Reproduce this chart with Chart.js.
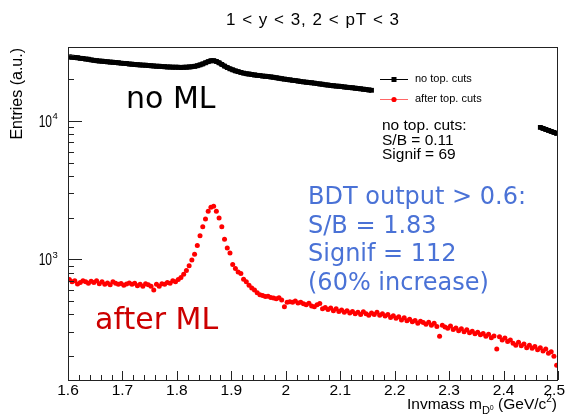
<!DOCTYPE html>
<html>
<head>
<meta charset="utf-8">
<script src="https://cdn.jsdelivr.net/npm/chart.js@4.4.1/dist/chart.umd.min.js"></script>
<style>
html, body { margin: 0; padding: 0; background: #ffffff; }
canvas { display: block; }
</style>
</head>
<body>
<canvas id="c" width="567" height="417"></canvas>
<script>
// D0 invariant-mass bins: 180 bins of 5 MeV between 1.6 and 2.5 GeV/c^2
const massBinCenters = Array.from({ length: 180 }, (_, i) => +(1.6025 + 0.005 * i).toFixed(4));

// Entries without topological cuts (null where the curve is hidden behind the legend)
const noTopCuts = [
  29000, 28850, 28700, 28600, 28350, 28200, 28000, 27900, 27600, 27400,
  27250, 27100, 27000, 26850, 26750, 26600, 26500, 26400, 26300, 26150,
  26050, 25950, 25800, 25700, 25600, 25500, 25400, 25300, 25250, 25150,
  25050, 24950, 24850, 24800, 24700, 24650, 24550, 24500, 24450, 24450,
  24400, 24350, 24400, 24450, 24550, 24650, 24800, 25050, 25400, 25800,
  26300, 26800, 27200, 27250, 26900, 26300, 25600, 24900, 24300, 23800,
  23400, 23000, 22700, 22400, 22150, 21950, 21800, 21650, 21500, 21350,
  21250, 21100, 21000, 20900, 20800, 20650, 20500, 20350, 20200, 20050,
  19900, 19800, 19650, 19550, 19400, 19250, 19150, 19050, 18950, 18850,
  18750, 18600, 18500, 18400, 18250, 18150, 18050, 17950, 17850, 17800,
  17700, 17600, 17500, 17400, 17350, 17250, 17150, 17050, 16950, 16850,
  16750, 16650,
  null, null, null, null, null, null, null, null, null, null,
  null, null, null, null, null, null, null, null, null, null,
  null, null, null, null, null, null, null, null, null, null,
  null, null, null, null, null, null, null, null, null, null,
  null, null, null, null, null, null, null, null, null, null,
  null, null, null, null, null, null, null, null, null, null,
  null,
  8980, 8830, 8680, 8540, 8400, 8260, 8120
];

// Entries after topological cuts (BDT output > 0.6)
const afterTopCuts = [
  715, 690, 700, 665, 680, 700, 690, 672, 695, 680,
  700, 668, 690, 660, 675, 655, 690, 672, 660, 670,
  650, 665, 675, 660, 672, 645, 660, 640, 668, 655,
  640, 600, 660, 640, 668, 660, 680, 672, 700, 690,
  715, 740, 780, 830, 900, 990, 1090, 1260, 1480, 1720,
  1960, 2230, 2380, 2420, 2230, 1990, 1720, 1400, 1210, 1110,
  920, 860, 810, 790, 720, 690, 650, 620, 600, 575,
  555, 548, 540, 542, 530, 526, 520, 528, 508, 455,
  490, 495, 490, 500, 485, 490, 478, 470, 482, 460,
  455, 470, 480, 440, 450, 435, 445, 425, 440, 420,
  430, 415, 425, 410, 420, 405, 415, 400, 418, 405,
  395, 410, 400, 415, 395, 405, 390, 400, 380, 392,
  375, 385, 365, 378, 360, 370, 355, 362, 345, 358,
  350, 340, 352, 335, 345, 328, 278, 335, 325, 318,
  330, 312, 320, 305, 315, 300, 310, 295, 302, 290,
  298, 285, 292, 278, 288, 272, 280, 225, 276, 262,
  270, 255, 262, 248, 240, 252, 238, 245, 230, 240,
  228, 235, 222, 230, 218, 225, 210, 215, 200, 172
];

// Axis ticks
const xMajorTicks = [1.6, 1.7, 1.8, 1.9, 2.0, 2.1, 2.2, 2.3, 2.4, 2.5];
const xTickLabels = ['1.6', '1.7', '1.8', '1.9', '2', '2.1', '2.2', '2.3', '2.4', '2.5'];
const xMinorStep = 0.02;
const yMajorTicks = [1000, 10000];
const yTickExponents = ['3', '4'];
const yMinorTicks = [200, 300, 400, 500, 600, 700, 800, 900,
                     2000, 3000, 4000, 5000, 6000, 7000, 8000, 9000, 20000, 30000];

const seriesNames = ['no top. cuts', 'after top. cuts'];
const statsNoCuts = ['no top. cuts:', 'S/B = 0.11', 'Signif = 69'];
const statsBDT = ['BDT output > 0.6:', 'S/B = 1.83', 'Signif = 112', '(60% increase)'];

const SANS = '"Liberation Sans", Arial, sans-serif';
const VERD = '"DejaVu Sans", Verdana, sans-serif';

const toXY = (vals) => vals.map((v, i) => ({ x: massBinCenters[i], y: v }));

// Frame, inward ticks, labels and annotations in the style of a ROOT canvas
const rootStyle = {
  id: 'rootStyle',
  afterDatasetsDraw(chart) {
    const { ctx, chartArea: a, scales } = chart;
    const xs = scales.x, ys = scales.y;
    ctx.save();

    // frame
    ctx.strokeStyle = '#222';
    ctx.lineWidth = 1;
    ctx.strokeRect(a.left + 0.5, a.top + 0.5, a.right - a.left - 1, a.bottom - a.top);

    // x ticks (inside the frame)
    ctx.beginPath();
    const nMinor = Math.round((xMajorTicks[xMajorTicks.length - 1] - xMajorTicks[0]) / xMinorStep);
    for (let k = 0; k <= nMinor; k++) {
      const v = xMajorTicks[0] + k * xMinorStep;
      const px = Math.round(xs.getPixelForValue(v)) + 0.5;
      const isMajor = k % 5 === 0;
      ctx.moveTo(px, a.bottom);
      ctx.lineTo(px, a.bottom - (isMajor ? 9 : 5));
    }
    // y ticks
    yMajorTicks.forEach(v => {
      const py = Math.round(ys.getPixelForValue(v)) + 0.5;
      ctx.moveTo(a.left, py); ctx.lineTo(a.left + 14, py);
    });
    yMinorTicks.forEach(v => {
      const py = Math.round(ys.getPixelForValue(v)) + 0.5;
      ctx.moveTo(a.left, py); ctx.lineTo(a.left + 6, py);
    });
    ctx.stroke();

    // x tick labels
    ctx.fillStyle = '#000';
    ctx.font = '15.5px ' + SANS;
    ctx.textBaseline = 'alphabetic';
    ctx.textAlign = 'left';
    xMajorTicks.forEach((v, i) => {
      const px = xs.getPixelForValue(v);
      const w = ctx.measureText(xTickLabels[i]).width;
      let left = px - w / 2;
      if (left + w > 565) left = 565 - w;
      ctx.fillText(xTickLabels[i], left, 395);
    });

    // y tick labels: 10^n
    yMajorTicks.forEach((v, i) => {
      const py = ys.getPixelForValue(v);
      ctx.save();
      ctx.translate(52, py + 6);
      ctx.scale(0.75, 1);
      ctx.font = '16px ' + SANS;
      ctx.textAlign = 'right';
      ctx.fillText('10', 0, 0);
      ctx.restore();
      ctx.font = '9.5px ' + SANS;
      ctx.textAlign = 'left';
      ctx.fillText(yTickExponents[i], 52.5, py - 1.5);
    });

    // axis titles
    ctx.save();
    ctx.translate(22, a.top + 1);
    ctx.rotate(-Math.PI / 2);
    ctx.font = '16px ' + SANS;
    ctx.textAlign = 'right';
    ctx.fillText('Entries (a.u.)', 0, 0);
    ctx.restore();

    // x title: Invmass m_{D^0} (GeV/c^2), right-aligned to the frame
    const parts = [
      { t: 'Invmass m', f: '15.5px ', dy: 0 },
      { t: 'D', f: '11px ', dy: 5 },
      { t: '0', f: '7px ', dy: 1 },
      { t: ' (GeV/c', f: '15.5px ', dy: 0 },
      { t: '2', f: '10px ', dy: -7.5 },
      { t: ')', f: '15.5px ', dy: 0 }
    ];
    let total = 0;
    parts.forEach(p => { ctx.font = p.f + SANS; p.w = ctx.measureText(p.t).width; total += p.w; });
    let cx = a.right - 1 - total;
    ctx.textAlign = 'left';
    parts.forEach(p => {
      ctx.font = p.f + SANS;
      ctx.fillText(p.t, cx, 409 + p.dy);
      cx += p.w;
    });

    // title
    ctx.font = '17px ' + SANS;
    ctx.letterSpacing = '1px';
    ctx.textAlign = 'center';
    ctx.fillText('1 < y < 3, 2 < pT < 3', 313, 25);
    ctx.letterSpacing = '0px';
    ctx.textAlign = 'left';

    // legend
    ctx.lineWidth = 1;
    ctx.strokeStyle = '#000';
    ctx.beginPath(); ctx.moveTo(380, 79.5); ctx.lineTo(408, 79.5); ctx.stroke();
    ctx.fillStyle = '#000';
    ctx.fillRect(391.5, 77, 5, 5);
    ctx.strokeStyle = 'rgba(255,0,0,0.6)';
    ctx.beginPath(); ctx.moveTo(380, 99.5); ctx.lineTo(408, 99.5); ctx.stroke();
    ctx.fillStyle = '#ff0000';
    ctx.beginPath(); ctx.arc(394, 99.5, 2.6, 0, Math.PI * 2); ctx.fill();
    ctx.fillStyle = '#000';
    ctx.font = '11px ' + SANS;
    ctx.textBaseline = 'middle';
    ctx.fillText(seriesNames[0], 415, 79);
    ctx.fillText(seriesNames[1], 415, 99);

    // statistics without cuts
    ctx.textBaseline = 'alphabetic';
    ctx.font = '15.5px ' + SANS;
    const sBase = [129.5, 145, 158.5];
    statsNoCuts.forEach((s, i) => ctx.fillText(s, 382, sBase[i]));

    // statistics after BDT selection
    ctx.fillStyle = '#4a72d6';
    ctx.font = '24px ' + VERD;
    const bBase = [204, 232.5, 261, 289.5];
    statsBDT.forEach((s, i) => ctx.fillText(s, 308, bBase[i]));

    // series captions
    ctx.fillStyle = '#000';
    ctx.font = '30px ' + VERD;
    ctx.fillText('no ML', 126, 108);
    ctx.fillStyle = '#cc0000';
    ctx.fillText('after ML', 95, 329);

    ctx.restore();
  }
};

new Chart(document.getElementById('c'), {
  type: 'line',
  data: {
    datasets: [
      {
        label: seriesNames[0],
        data: toXY(noTopCuts),
        borderColor: '#000000',
        backgroundColor: '#000000',
        borderWidth: 5,
        pointStyle: 'rect',
        pointRadius: 3.4,
        pointBorderWidth: 0,
        pointBackgroundColor: '#000000',
        spanGaps: false,
        tension: 0
      },
      {
        label: seriesNames[1],
        data: toXY(afterTopCuts),
        showLine: false,
        borderColor: '#ff0000',
        backgroundColor: '#ff0000',
        pointStyle: 'circle',
        pointRadius: 2.5,
        pointBorderWidth: 0,
        pointBackgroundColor: '#ff0000'
      }
    ]
  },
  options: {
    responsive: false,
    animation: false,
    devicePixelRatio: 1,
    layout: { padding: { left: 68, right: 9, top: 47, bottom: 37 } },
    plugins: { legend: { display: false }, title: { display: false }, tooltip: { enabled: false } },
    scales: {
      x: { type: 'linear', min: 1.6, max: 2.5, display: false },
      y: { type: 'logarithmic', min: 134.5, max: 34200, display: false }
    }
  },
  plugins: [rootStyle]
});
</script>
</body>
</html>
